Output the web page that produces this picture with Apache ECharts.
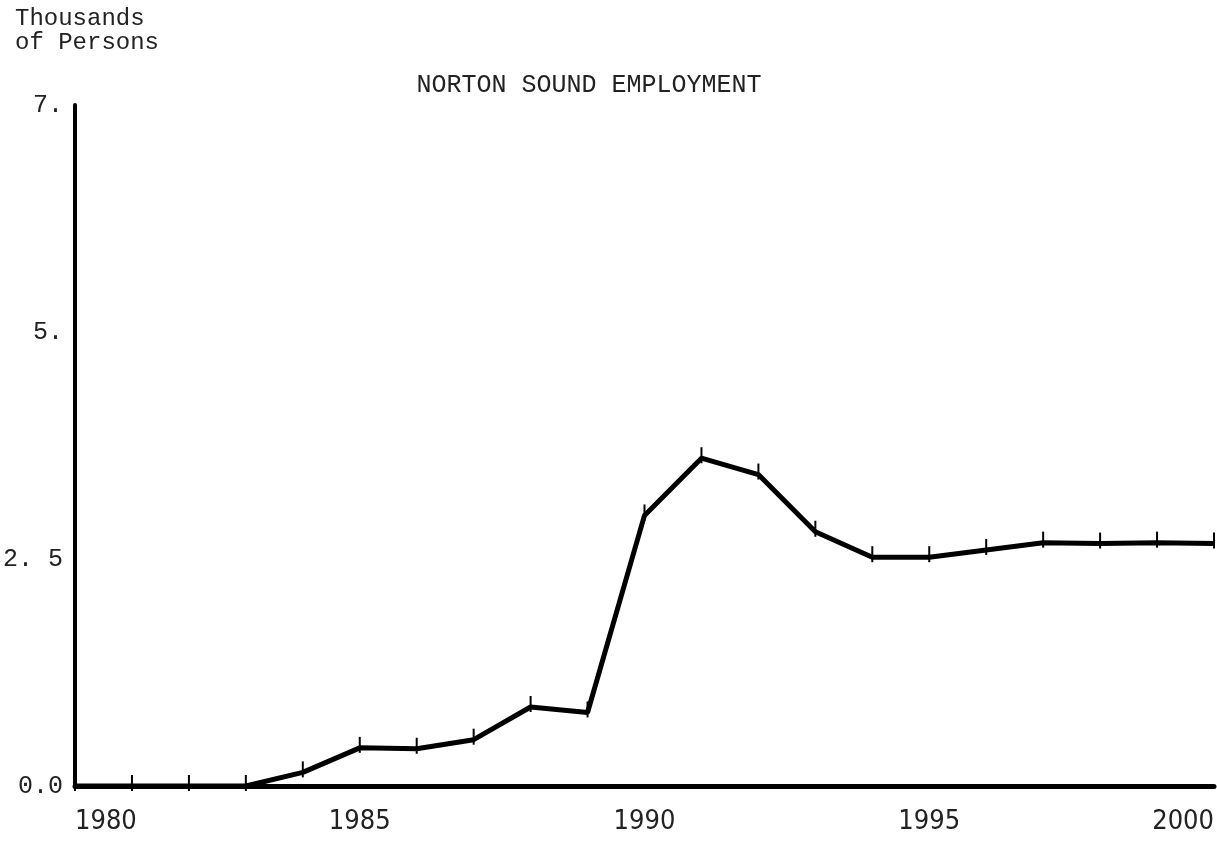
<!DOCTYPE html>
<html>
<head>
<meta charset="utf-8">
<title>Norton Sound Employment</title>
<script src="https://cdn.jsdelivr.net/npm/echarts@6/dist/echarts.min.js"></script>
<style>
	html, body { margin: 0; padding: 0; background: #fff; }
	#chart { width: 1217px; height: 861px; }
</style>
</head>
<body>
<div id="chart"></div>
<script>
	// years on the x axis
	const years = [1980, 1981, 1982, 1983, 1984, 1985, 1986, 1987, 1988, 1989, 1990,
		1991, 1992, 1993, 1994, 1995, 1996, 1997, 1998, 1999, 2000];
	// thousands of persons
	const employment = [0.0, 0.0, 0.0, 0.0, 0.15, 0.42, 0.41, 0.51, 0.87, 0.81, 2.98,
		3.61, 3.43, 2.80, 2.52, 2.52, 2.60, 2.68, 2.67, 2.68, 2.67];
	// y tick labels as printed
	const yTickLabels = { 0: '0.0', 2.5: '2. 5', 5: '5.', 7.5: '7.' };

	const fontStack = '"Liberation Sans Narrow", "DejaVu Sans Condensed", "Liberation Mono", sans-serif';
	const monoStack = '"Liberation Mono", "DejaVu Sans Mono", monospace';

	const chartInstance = echarts.init(document.getElementById('chart'), null, { renderer: 'canvas' });

	const option = {
		backgroundColor: '#fff',
		animation: false,
		title: [
			{
				text: 'Thousands\nof Persons',
				left: 10,
				top: 2,
				textStyle: { fontFamily: monoStack, fontSize: 24, fontWeight: 'normal', color: '#222', lineHeight: 24 }
			},
			{
				text: 'NORTON SOUND EMPLOYMENT',
				left: 584,
				top: 68,
				textAlign: 'center',
				textStyle: { fontFamily: monoStack, fontSize: 25, fontWeight: 'normal', color: '#222' }
			}
		],
		grid: { left: 66, right: 0, top: 105, bottom: 75 },
		xAxis: [
			{
				type: 'value',
				min: 1980,
				max: 2000,
				interval: 5,
				axisLine: { show: true, onZero: false, lineStyle: { color: '#000', width: 3 } },
				axisTick: { show: false },
				splitLine: { show: false },
				axisLabel: {
					margin: 22,
					alignMinLabel: 'left',
					alignMaxLabel: 'right',
					fontFamily: fontStack,
					fontSize: 27,
					color: '#222',
					formatter: v => String(v)
				}
			},
			{
				type: 'value',
				position: 'top',
				min: 1980,
				max: 2000,
				axisLine: { show: true, lineStyle: { color: '#000', width: 5 } },
				axisTick: { show: false },
				axisLabel: { show: false },
				splitLine: { show: false }
			}
		],
		yAxis: {
			type: 'value',
			min: 0,
			max: 7.5,
			interval: 2.5,
			axisLine: { show: true, lineStyle: { color: '#000', width: 4 } },
			axisTick: { show: false },
			splitLine: { show: false },
			axisLabel: {
				margin: 12,
				fontFamily: monoStack,
				fontSize: 25,
				color: '#222',
				formatter: v => yTickLabels[v] !== undefined ? yTickLabels[v] : ''
			}
		},
		series: [
			{
				type: 'line',
				data: years.map((y, i) => [y, employment[i]]),
				symbol: 'rect',
				symbolSize: [2, 16],
				symbolOffset: [0, -3],
				itemStyle: { color: '#000' },
				lineStyle: { color: '#000', width: 5 },
				clip: false
			}
		]
	};
	chartInstance.setOption(option);
</script>
</body>
</html>
